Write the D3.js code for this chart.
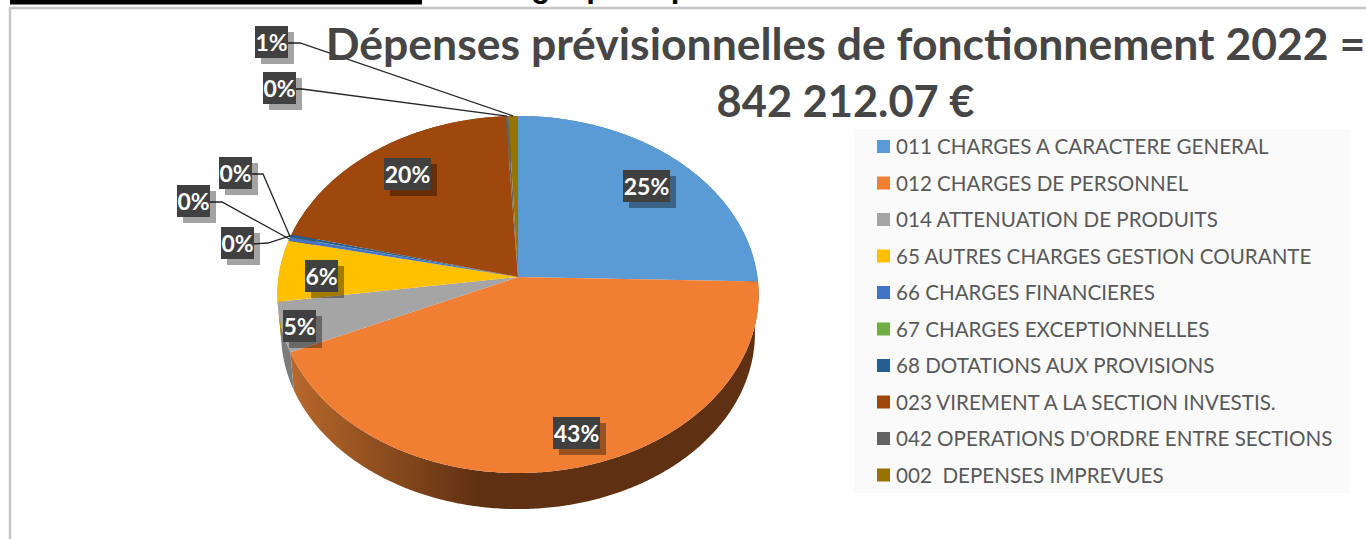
<!DOCTYPE html>
<html>
<head>
<meta charset="utf-8">
<script src="https://cdn.jsdelivr.net/npm/d3@7"></script>
<style>
  html, body { margin: 0; padding: 0; background: #fff; overflow: hidden; }
  text { font-family: Lato, "Open Sans", sans-serif; }
</style>
</head>
<body>
<div id="chart-area"></div>
<script>
// data
var categories = [
  "011 CHARGES A CARACTERE GENERAL",
  "012 CHARGES DE PERSONNEL",
  "014 ATTENUATION DE PRODUITS",
  "65 AUTRES CHARGES GESTION COURANTE",
  "66 CHARGES FINANCIERES",
  "67 CHARGES EXCEPTIONNELLES",
  "68 DOTATIONS AUX PROVISIONS",
  "023 VIREMENT A LA SECTION INVESTIS.",
  "042 OPERATIONS D'ORDRE ENTRE SECTIONS",
  "002  DEPENSES IMPREVUES"
];
var shares = [25.4, 42.9, 4.5, 5.55, 0.35, 0.02, 0.25, 20.13, 0.2, 0.7];
var palette = ["#5b9bd5", "#f07f33", "#a5a5a5", "#ffc000", "#4472c4", "#70ad47", "#255e91", "#9e480e", "#636363", "#997300"];
var titleLines = ["Dépenses prévisionnelles de fonctionnement 2022 =", "842 212.07 €"];

// hand placed labels (top left corner of the box), same order as categories
var labelBoxes = [[623, 170], [553, 417], [283, 310], [305, 260], [177, 185], [219, 157], [221, 227], [384, 158], [263, 72], [255, 26]];
var labelElbows = { 4: [222, 202], 5: [263, 174], 6: [268, 243], 8: [302, 89], 9: [300, 43] };

var width = 1366, height = 539;

var svg = d3.select("#chart-area")
  .append("svg")
  .attr("width", width)
  .attr("height", height)
  .style("display", "block");

// clipped header of the page behind the chart
svg.append("rect").attr("x", 10).attr("y", 0).attr("width", 412).attr("height", 4.5).attr("fill", "#000");
svg.append("text")
  .attr("x", 471).attr("y", -3)
  .attr("font-size", "31px")
  .style("font-family", "'Liberation Sans', Arial, sans-serif")
  .attr("font-weight", "bold")
  .attr("fill", "#000")
  .text("Budget principal");

// chart frame
svg.append("rect").attr("x", 10).attr("y", 8).attr("width", width).attr("height", height).attr("fill", "#fff")
  .attr("stroke", "#c6c6c6").attr("stroke-width", 2.5);

// perspective of the pie: circle -> screen
var cx = 518, cy = 277;
var persp = -0.098, scaleY = 176.8, scaleX = 239.4;
var lowerScale = 0.985, lowerShift = 39;

function rim(theta, k, shift) {
  var ux = Math.sin(theta), uy = -Math.cos(theta), w = 1 + persp * uy;
  return [cx + k * scaleX * ux / w, cy + k * scaleY * uy / w + shift];
}
function rimArc(a0, a1, k, shift) {
  var n = Math.max(2, Math.ceil((a1 - a0) / 0.01));
  return d3.range(n + 1).map(function(i) { return rim(a0 + (a1 - a0) * i / n, k, shift); });
}

var color = d3.scaleOrdinal().domain(categories).range(palette);
var line = d3.line();
var total = d3.sum(shares);

var slices = d3.pie().sort(null)(shares);

var defs = svg.append("defs");
var grad = defs.append("linearGradient")
  .attr("id", "sideOrange")
  .attr("gradientUnits", "userSpaceOnUse")
  .attr("x1", 285).attr("x2", 480).attr("y1", 0).attr("y2", 0);
grad.append("stop").attr("offset", "0%").attr("stop-color", "#bb6a2c");
grad.append("stop").attr("offset", "100%").attr("stop-color", "#5f3011");

// Side of the pie
svg.append("g").selectAll("path").data(slices).enter()
  .append("path")
  .attr("d", function(d) {
    var top = rimArc(d.startAngle, d.endAngle, 1, 0);
    var low = rimArc(d.startAngle, d.endAngle, lowerScale, lowerShift).reverse();
    return line(top.concat(low)) + "Z";
  })
  .attr("fill", function(d, i) {
    return i == 1 ? "url(#sideOrange)" : d3.color(palette[i]).darker(0.8);
  });

// Top of the pie
svg.append("g").selectAll("path").data(slices).enter()
  .append("path")
  .attr("d", function(d) {
    return line([[cx, cy]].concat(rimArc(d.startAngle, d.endAngle, 1, 0))) + "Z";
  })
  .attr("fill", function(d, i) { return color(categories[i]); });

// Leader lines
svg.append("g").selectAll("path").data(slices).enter()
  .filter(function(d, i) { return labelElbows[i]; })
  .append("path")
  .attr("d", function(d) {
    var i = d.index, box = labelBoxes[i];
    var end = rim((d.startAngle + d.endAngle) / 2, 1, 0);
    return line([[box[0] + 32, box[1] + 17], labelElbows[i], end]);
  })
  .attr("fill", "none")
  .attr("stroke", "#262626")
  .attr("stroke-width", 1.3);

// Data labels
var labels = svg.append("g").selectAll("g").data(slices).enter()
  .append("g")
  .attr("transform", function(d) { return "translate(" + labelBoxes[d.index] + ")"; });
function labelText(d) { return Math.round(d.value / total * 100) + "%"; }
function boxWidth(d) { return labelText(d).length > 2 ? 47 : 33; }

labels.append("rect")
  .attr("x", 6).attr("y", 6)
  .attr("width", boxWidth).attr("height", 32)
  .attr("fill", "#000").attr("opacity", 0.36);
labels.append("rect")
  .attr("width", boxWidth).attr("height", 32)
  .attr("fill", "#404040");
labels.append("text")
  .attr("x", function(d) { return boxWidth(d) / 2; })
  .attr("y", 25)
  .attr("text-anchor", "middle")
  .attr("font-size", "23px")
  .attr("font-weight", "bold")
  .attr("fill", "#fff")
  .text(labelText);

// Title
svg.append("g").selectAll("text").data(titleLines).enter()
  .append("text")
  .attr("x", 845.5)
  .attr("y", function(d, i) { return 60 + i * 56.5; })
  .attr("text-anchor", "middle")
  .attr("font-size", function(d, i) { return i ? "43.4px" : "44.5px"; })
  .attr("font-weight", "bold")
  .attr("fill", "#464646")
  .text(function(d) { return d; });

// Legend
var legendY = d3.scalePoint().domain(categories).range([146.5, 475]);
svg.append("rect")
  .attr("x", 854).attr("y", 129).attr("width", 496).attr("height", 364)
  .attr("fill", "#fafafa");
var legend = svg.append("g").selectAll("g").data(categories).enter()
  .append("g")
  .attr("transform", function(d) { return "translate(877," + legendY(d) + ")"; });
legend.append("rect")
  .attr("y", -6.5).attr("width", 13).attr("height", 13)
  .attr("fill", function(d) { return color(d); });
legend.append("text")
  .attr("x", 19).attr("y", 7.5)
  .attr("font-size", "20.6px")
  .attr("fill", "#595959")
  .style("white-space", "pre")
  .attr("xml:space", "preserve")
  .text(function(d) { return d; });
</script>
</body>
</html>
